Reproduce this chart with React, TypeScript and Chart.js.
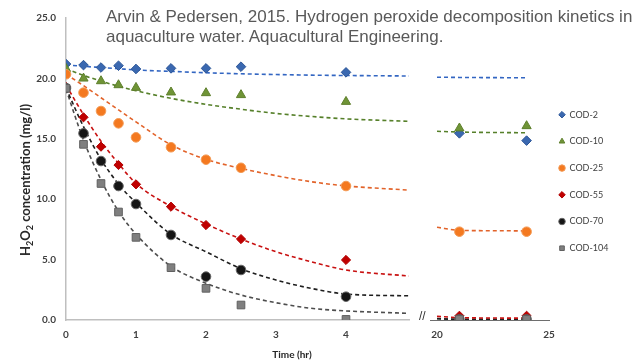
import React, { useEffect, useRef } from "react";
import { Chart, registerables } from "chart.js";

Chart.register(...registerables);

// ---- data ----
const LABELS = ["COD-2", "COD-10", "COD-25", "COD-55", "COD-70", "COD-104"];
const TIMES = [0, 0.25, 0.5, 0.75, 1, 1.5, 2, 2.5, 4, 21, 24];
const COD2 = [21.19, 21.1, 20.9, 21.05, 20.78, 20.83, 20.83, 20.97, 20.5, 15.45, 14.85];
const COD10 = [20.8, 20.0, 19.78, 19.45, 19.23, 18.85, 18.79, 18.63, 18.07, 15.87, 16.06];
const COD25 = [20.34, 18.82, 17.3, 16.28, 15.12, 14.3, 13.27, 12.6, 11.09, 7.31, 7.31];
const COD55 = [19.3, 16.78, 14.35, 12.83, 11.23, 9.38, 7.86, 6.7, 4.97, 0.35, 0.35];
const COD70 = [19.2, 15.45, 13.16, 11.09, 9.6, 7.04, 3.59, 4.14, 1.93, 0.05, 0.05];
const COD104 = [19.18, 14.54, 11.3, 8.94, 6.84, 4.33, 2.62, 1.24, 0.05, 0.05, 0.05];

// fitted (dashed) curves, read at these times
const FIT_X_EARLY = [0, 0.25, 0.5, 0.75, 1, 1.5, 2, 2.5, 3, 3.5, 4, 4.9];
const FIT_COD2_EARLY = [21.12, 21.0, 20.9, 20.8, 20.7, 20.58, 20.47, 20.38, 20.32, 20.27, 20.24, 20.2];
const FIT_COD10_EARLY = [20.8, 20.25, 19.78, 19.35, 18.98, 18.35, 17.85, 17.45, 17.1, 16.85, 16.65, 16.45];
const FIT_COD25_EARLY = [20.35, 19.4, 18.4, 17.4, 16.4, 14.5, 13.3, 12.55, 11.95, 11.45, 11.1, 10.75];
const FIT_COD55_EARLY = [19.45, 17.0, 14.8, 12.95, 11.3, 9.4, 7.95, 6.7, 5.65, 4.83, 4.14, 3.64];
const FIT_COD70_EARLY = [19.2, 16.0, 13.3, 11.25, 9.7, 7.1, 5.65, 4.25, 3.31, 2.62, 2.15, 2.0];
const FIT_COD104_EARLY = [19.1, 14.9, 11.6, 9.0, 7.1, 4.45, 3.04, 2.07, 1.43, 0.97, 0.75, 0.55];

const FIT_X_LATE = [20, 21, 24];
const FIT_COD2_LATE = [20.1, 20.08, 20.05];
const FIT_COD10_LATE = [15.62, 15.56, 15.5];
const FIT_COD25_LATE = [7.68, 7.42, 7.38];
const FIT_COD55_LATE = [0.3, 0.2, 0.15];
const FIT_COD70_LATE = [0.1, 0.05, 0.05];
const FIT_COD104_LATE = [0.12, 0.05, 0.02];

const Y_TICKS = [0, 5, 10, 15, 20, 25];
const X_TICKS_EARLY = [0, 1, 2, 3, 4];
const X_TICKS_LATE = [20, 25];

const VALUES = [COD2, COD10, COD25, COD55, COD70, COD104];
const FITS_EARLY = [FIT_COD2_EARLY, FIT_COD10_EARLY, FIT_COD25_EARLY, FIT_COD55_EARLY, FIT_COD70_EARLY, FIT_COD104_EARLY];
const FITS_LATE = [FIT_COD2_LATE, FIT_COD10_LATE, FIT_COD25_LATE, FIT_COD55_LATE, FIT_COD70_LATE, FIT_COD104_LATE];

// ---- styles ----
const STYLES = [
  { pointStyle: "rectRot", radius: 4.8, fill: "#3A68B0", edge: "#2B5597", line: "#3366C2" },
  { pointStyle: "triangle", radius: 5.3, fill: "#6F9436", edge: "#5E7F2C", line: "#56802A" },
  { pointStyle: "circle", radius: 4.8, fill: "#F47920", edge: "#F39A55", line: "#E2632A" },
  { pointStyle: "rectRot", radius: 4.6, fill: "#C00000", edge: "#B00000", line: "#C81010" },
  { pointStyle: "circle", radius: 4.8, fill: "#151515", edge: "#666666", line: "#1E1E1E" },
  { pointStyle: "rect", radius: 5.4, fill: "#7F7F7F", edge: "#606060", line: "#4D4D4D" },
];

const TICK_FONT = { family: "Lato", weight: "bold" as const, size: 10 };

function buildDatasets(keep: (x: number) => boolean, fitX: number[], fits: number[][]) {
  const pts = LABELS.map((label, i) => ({
    type: "scatter" as const,
    label,
    data: TIMES.map((x, j) => ({ x, y: VALUES[i][j] })).filter((p) => keep(p.x)),
    pointStyle: STYLES[i].pointStyle,
    pointRadius: STYLES[i].radius,
    pointHoverRadius: STYLES[i].radius,
    backgroundColor: STYLES[i].fill,
    borderColor: STYLES[i].edge,
    borderWidth: 1,
    showLine: false,
    order: LABELS.length - i,
  }));
  const lines = LABELS.map((label, i) => ({
    type: "scatter" as const,
    label: label + " fit",
    data: fitX.map((x, j) => ({ x, y: fits[i][j] })),
    showLine: true,
    pointRadius: 0,
    pointHoverRadius: 0,
    borderColor: STYLES[i].line,
    backgroundColor: STYLES[i].line,
    borderWidth: 1.6,
    borderDash: [4, 3],
    cubicInterpolationMode: "monotone" as const,
    fill: false,
    order: 20,
  }));
  return [...pts, ...lines];
}

const setTicks = (vals: number[]) => (s: any) => {
  s.ticks = vals.map((v) => ({ value: v }));
};

export default function App() {
  const leftRef = useRef<HTMLCanvasElement>(null);
  const rightRef = useRef<HTMLCanvasElement>(null);

  useEffect(() => {
    const left = new Chart(leftRef.current!, {
      type: "scatter",
      data: { datasets: buildDatasets((x) => x < 10, FIT_X_EARLY, FITS_EARLY) as any },
      options: {
        animation: false,
        responsive: false,
        layout: { padding: { left: 0, right: 11, top: 18, bottom: 0 } },
        plugins: { legend: { display: false }, tooltip: { enabled: false } },
        scales: {
          x: {
            type: "linear",
            min: 0,
            max: 4.9,
            afterBuildTicks: setTicks(X_TICKS_EARLY),
            afterFit: (s: any) => {
              s.height = 43;
            },
            grid: { display: false, drawTicks: false },
            border: { display: true, color: "#BFBFBF", width: 1.5 },
            ticks: { padding: 9, color: "#404040", font: TICK_FONT, callback: (v: any) => String(v) },
          },
          y: {
            type: "linear",
            min: 0,
            max: 25,
            afterBuildTicks: setTicks(Y_TICKS),
            afterFit: (s: any) => {
              s.width = 66;
            },
            grid: { display: false, drawTicks: false },
            border: { display: true, color: "#BFBFBF", width: 1.5 },
            ticks: { padding: 10, color: "#404040", font: TICK_FONT, callback: (v: any) => Number(v).toFixed(1) },
          },
        },
      } as any,
    });

    const legendPlace = {
      id: "legendPlace",
      afterLayout(chart: any) {
        const lg = chart.legend;
        if (!lg) return;
        const pad = lg.options.labels.padding;
        lg.left = 139 - pad;
        lg.width = 110;
        lg.right = lg.left + 110;
        lg.top = 110.2 - pad;
        lg.bottom = 363;
        lg.height = lg.bottom - lg.top;
      },
    };

    const right = new Chart(rightRef.current!, {
      type: "scatter",
      data: { datasets: buildDatasets((x) => x > 10, FIT_X_LATE, FITS_LATE) as any },
      options: {
        animation: false,
        responsive: false,
        layout: { padding: { left: 10.3, right: 51, top: 18, bottom: 0 } },
        plugins: {
          tooltip: { enabled: false },
          legend: {
            display: true,
            position: "right",
            align: "start",
            maxWidth: 60,
            labels: {
              usePointStyle: true,
              boxWidth: 6,
              boxHeight: 4.6,
              padding: 17.7,
              color: "#404040",
              font: { family: "Lato", size: 9 },
              filter: (item: any) => item.datasetIndex < LABELS.length,
              sort: (a: any, b: any) => a.datasetIndex - b.datasetIndex,
            },
          },
        },
        scales: {
          x: {
            type: "linear",
            min: 19.7,
            max: 25,
            afterBuildTicks: setTicks(X_TICKS_LATE),
            afterFit: (s: any) => {
              s.height = 43;
            },
            grid: { display: false, drawTicks: false },
            border: { display: true, color: "#6E6E6E", width: 1 },
            ticks: { padding: 9, color: "#404040", font: TICK_FONT, callback: (v: any) => String(v) },
          },
          y: { type: "linear", display: false, min: 0, max: 25 },
        },
      } as any,
      plugins: [legendPlace],
    });

    return () => {
      left.destroy();
      right.destroy();
    };
  }, []);

  return (
    <div
      style={{
        position: "fixed",
        left: 0,
        top: 0,
        width: 633,
        height: 363,
        overflow: "hidden",
        background: "#ffffff",
      }}
    >
      <canvas ref={leftRef} width={420} height={363} style={{ position: "absolute", left: 0, top: 0 }} />
      <canvas ref={rightRef} width={240} height={363} style={{ position: "absolute", left: 420, top: 0 }} />
      <div
        style={{
          position: "absolute",
          left: 106,
          top: 7,
          fontFamily: "'Liberation Sans', Arial, sans-serif",
          fontSize: 17,
          lineHeight: "20px",
          color: "#595959",
          whiteSpace: "nowrap",
        }}
      >
        Arvin &amp; Pedersen, 2015. Hydrogen peroxide decomposition kinetics in
        <br />
        aquaculture water. Aquacultural Engineering.
      </div>
      <div
        style={{
          position: "absolute",
          left: 25,
          top: 180,
          transform: "translate(-50%, -50%) rotate(-90deg)",
          fontFamily: "Lato, sans-serif",
          fontWeight: "bold",
          fontSize: 13,
          lineHeight: "14px",
          color: "#262626",
          whiteSpace: "nowrap",
        }}
      >
        H<sub style={{ fontSize: 9, verticalAlign: "-3px", lineHeight: 0 }}>2</sub>O
        <sub style={{ fontSize: 9, verticalAlign: "-3px", lineHeight: 0 }}>2</sub> concentration (mg/l)
      </div>
      <div
        style={{
          position: "absolute",
          left: 292,
          top: 348,
          transform: "translateX(-50%)",
          fontFamily: "Lato, sans-serif",
          fontWeight: "bold",
          fontSize: 10,
          lineHeight: "12px",
          color: "#262626",
          whiteSpace: "nowrap",
        }}
      >
        Time (hr)
      </div>
      <div
        style={{
          position: "absolute",
          left: 419,
          top: 310,
          fontFamily: "'Liberation Sans', Arial, sans-serif",
          fontSize: 12,
          lineHeight: "12px",
          color: "#333333",
          whiteSpace: "nowrap",
        }}
      >
        //
      </div>
    </div>
  );
}
